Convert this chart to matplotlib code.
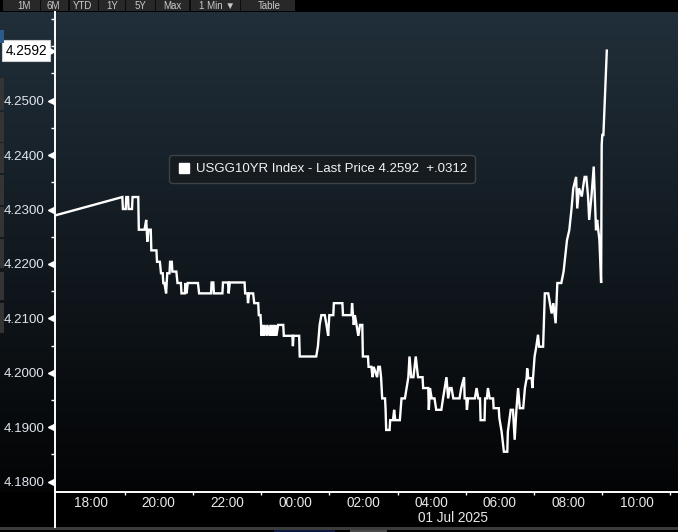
import matplotlib
matplotlib.use("Agg")
import matplotlib.pyplot as plt
import numpy as np
import matplotlib.transforms as mtransforms
from matplotlib.lines import Line2D
from matplotlib.patches import Rectangle
from matplotlib.ticker import FixedLocator, NullFormatter, FixedFormatter

plt.rcParams['font.family'] = ['Liberation Sans Narrow', 'Liberation Sans', 'DejaVu Sans']

# ---------------- data ----------------
times = [
    "16:57", "18:56", "18:57", "19:02", "19:03", "19:06", "19:07", "19:13", "19:14", "19:24",
    "19:25", "19:35", "19:38", "19:40", "19:42", "19:46", "19:47", "19:56", "19:57", "20:02",
    "20:04", "20:07", "20:08", "20:10", "20:13", "20:15", "20:19", "20:20", "20:23", "20:24",
    "20:31", "20:33", "20:39", "20:40", "20:46", "20:47", "20:49", "20:51", "21:09", "21:11",
    "21:32", "21:33", "21:36", "21:37", "21:52", "21:53", "22:02", "22:03", "22:05", "22:31",
    "22:32", "22:36", "22:37", "22:39", "22:46", "22:48", "22:55", "22:56", "22:59", "23:00",
    "23:01", "23:02", "23:05", "23:06", "23:10", "23:11", "23:15", "23:17", "23:19", "23:21",
    "23:23", "23:25", "23:27", "23:30", "23:39", "23:40", "23:55", "23:56", "23:57", "00:07",
    "00:08", "00:37", "00:40", "00:43", "00:46", "00:52", "00:55", "00:58", "01:00", "01:07",
    "01:08", "01:23", "01:24", "01:39", "01:40", "01:43", "01:45", "01:51", "01:54", "01:58",
    "01:59", "02:08", "02:09", "02:14", "02:16", "02:18", "02:24", "02:26", "02:29", "02:31",
    "02:33", "02:38", "02:39", "02:40", "02:46", "02:47", "02:52", "02:54", "02:56", "03:04",
    "03:07", "03:13", "03:16", "03:19", "03:21", "03:24", "03:28", "03:32", "03:36", "03:44",
    "03:45", "03:54", "03:55", "03:57", "04:00", "04:05", "04:08", "04:17", "04:20", "04:26",
    "04:29", "04:32", "04:35", "04:38", "04:49", "04:52", "04:57", "04:58", "05:01", "05:02",
    "05:04", "05:16", "05:19", "05:22", "05:25", "05:26", "05:33", "05:34", "05:37", "05:39",
    "05:42", "05:48", "05:49", "05:58", "05:59", "06:03", "06:07", "06:13", "06:14", "06:19",
    "06:23", "06:26", "06:29", "06:32", "06:35", "06:41", "06:44", "06:47", "06:48", "06:50",
    "06:56", "06:57", "07:01", "07:04", "07:07", "07:09", "07:16", "07:19", "07:25", "07:28",
    "07:31", "07:34", "07:38", "07:41", "07:48", "07:52", "07:58", "08:02", "08:06", "08:09",
    "08:14", "08:16", "08:19", "08:24", "08:26", "08:29", "08:32", "08:35", "08:37", "08:41",
    "08:45", "08:49", "08:51", "08:55", "08:58", "08:59", "09:00", "09:02", "09:08",
]
values = [
    4.2289, 4.2323, 4.2301, 4.2301, 4.2323, 4.2323, 4.2301, 4.2301, 4.2323, 4.2323,
    4.2263, 4.2263, 4.2281, 4.2241, 4.2263, 4.2263, 4.2225, 4.2225, 4.2204, 4.2204,
    4.2183, 4.2183, 4.2165, 4.2165, 4.2146, 4.2183, 4.2183, 4.2204, 4.2204, 4.2186,
    4.2186, 4.2165, 4.2165, 4.2146, 4.2146, 4.2165, 4.2146, 4.2165, 4.2165, 4.2146,
    4.2146, 4.2166, 4.2166, 4.2146, 4.2146, 4.2166, 4.2166, 4.2146, 4.2166, 4.2166,
    4.2146, 4.2146, 4.2128, 4.2146, 4.2146, 4.2128, 4.2128, 4.2106, 4.2106, 4.2088,
    4.2068, 4.2088, 4.2068, 4.2088, 4.2068, 4.2088, 4.2068, 4.2088, 4.2068, 4.2088,
    4.2068, 4.2088, 4.2068, 4.2088, 4.2088, 4.2068, 4.2068, 4.2049, 4.2068, 4.2068,
    4.2030, 4.2030, 4.2049, 4.2088, 4.2106, 4.2106, 4.2088, 4.2068, 4.2106, 4.2106,
    4.2128, 4.2128, 4.2106, 4.2106, 4.2128, 4.2088, 4.2106, 4.2068, 4.2088, 4.2088,
    4.2030, 4.2030, 4.2011, 4.2011, 4.1992, 4.2011, 4.1992, 4.2011, 4.2011, 4.1992,
    4.1953, 4.1953, 4.1932, 4.1895, 4.1895, 4.1913, 4.1913, 4.1932, 4.1913, 4.1913,
    4.1953, 4.1953, 4.1972, 4.1992, 4.2030, 4.1992, 4.1992, 4.2030, 4.1992, 4.1992,
    4.1972, 4.1972, 4.1932, 4.1972, 4.1953, 4.1953, 4.1932, 4.1932, 4.1953, 4.1992,
    4.1953, 4.1972, 4.1972, 4.1953, 4.1953, 4.1972, 4.1992, 4.1953, 4.1953, 4.1932,
    4.1953, 4.1953, 4.1972, 4.1953, 4.1953, 4.1913, 4.1913, 4.1953, 4.1953, 4.1972,
    4.1953, 4.1953, 4.1935, 4.1935, 4.1917, 4.1892, 4.1855, 4.1855, 4.1892, 4.1932,
    4.1932, 4.1877, 4.1932, 4.1972, 4.1935, 4.1935, 4.1972, 4.1990, 4.2008, 4.1990,
    4.1990, 4.1972, 4.2030, 4.2048, 4.2070, 4.2048, 4.2048, 4.2146, 4.2146, 4.2128,
    4.2109, 4.2128, 4.2091, 4.2165, 4.2165, 4.2186, 4.2244, 4.2262, 4.2302, 4.2339,
    4.2360, 4.2302, 4.2339, 4.2324, 4.2339, 4.2360, 4.2360, 4.2324, 4.2281, 4.2324,
    4.2379, 4.2262, 4.2281, 4.2244, 4.2165, 4.2418, 4.2437, 4.2437, 4.2592,
]
y_ticks = [4.18, 4.19, 4.20, 4.21, 4.22, 4.23, 4.24, 4.25]
y_minor = [4.185, 4.195, 4.205, 4.215, 4.225, 4.235, 4.245, 4.255, 4.26, 4.265]
x_label_hours = [18, 20, 22, 24, 26, 28, 30, 32, 34]
x_tick_labels = ["18:00", "20:00", "22:00", "00:00", "02:00", "04:00", "06:00", "08:00", "10:00"]
x_mark_hours = [19, 21, 23, 25, 27, 29, 31, 33, 35]
date_label = "01 Jul 2025"
date_label_hour = 28.62
legend_label = "USGG10YR Index - Last Price 4.2592  +.0312"
last_price = 4.2592
last_price_label = "4.2592"
toolbar_labels = ["1M", "6M", "YTD", "1Y", "5Y", "Max", "1 Min \u25bc", "Table"]

# convert HH:MM strings to continuous hours (rolling over midnight)
hours = []
offset = 0.0
prev = None
for t in times:
    h, m = map(int, t.split(":"))
    v = h + m / 60.0 + offset
    if prev is not None and v < prev:
        offset += 24.0
        v += 24.0
    hours.append(v)
    prev = v

W, H = 678, 532
def fx(px):
    return px / W
def fy(py):
    return 1 - py / H

fig = plt.figure(figsize=(W / 100, H / 100), dpi=100, facecolor="black")

# ---------------- background gradient ----------------
ax_top, ax_bot, ax_left = 12, 492, 55
bg = fig.add_axes([0, fy(ax_bot), 1, (ax_bot - ax_top) / H])
top_c = np.array([0x21, 0x2f, 0x3a]) / 255.0
bot_c = np.array([0x03, 0x04, 0x05]) / 255.0
n = 256
frac = np.linspace(0, 1, n)[:, None]
grad = top_c[None, :] * (1 - frac) + bot_c[None, :] * frac
bg.imshow(grad[:, None, :], aspect="auto", extent=[0, 1, 0, 1], interpolation="bilinear")
bg.set_axis_off()

# ---------------- main axes ----------------
ax = fig.add_axes([fx(ax_left), fy(ax_bot), (W - ax_left) / W, (ax_bot - ax_top) / H])
ax.patch.set_alpha(0)
ax.plot(hours, values, color="white", lw=1.7, solid_joinstyle="miter", label=legend_label, zorder=3)
ax.set_xlim(16.96, 35.22)
ax.set_ylim(4.1781, 4.2663)

for s in ["top", "right"]:
    ax.spines[s].set_visible(False)
for s in ["left", "bottom"]:
    ax.spines[s].set_color("white")
    ax.spines[s].set_linewidth(1.4)

# y axis
ax.yaxis.set_major_locator(FixedLocator(y_ticks))
ax.yaxis.set_major_formatter(FixedFormatter(["%.4f" % v for v in y_ticks]))
ax.yaxis.set_minor_locator(FixedLocator(y_minor))
ax.tick_params(axis="y", which="major", length=0, pad=7.4, labelsize=9.6, labelcolor="#dfe5ec")
ax.tick_params(axis="y", which="minor", length=3.0, width=1.0, color="white", direction="out")
ytrans = mtransforms.blended_transform_factory(ax.transAxes, ax.transData)
ax.plot(np.full(len(y_ticks), -4.5 / 623), y_ticks, ls="none", marker="<", ms=4.5,
        color="white", mec="white", transform=ytrans, clip_on=False)

# x axis
ax.xaxis.set_major_locator(FixedLocator(x_mark_hours))
ax.xaxis.set_major_formatter(NullFormatter())
ax.xaxis.set_minor_locator(FixedLocator(x_label_hours))
ax.xaxis.set_minor_formatter(FixedFormatter(x_tick_labels))
ax.tick_params(axis="x", which="major", length=2.5, width=1.0, color="white", direction="out")
ax.tick_params(axis="x", which="minor", length=0, pad=3.0, labelsize=9.8, labelcolor="#e8e8e8")
xtrans = mtransforms.blended_transform_factory(ax.transData, ax.transAxes)
ax.text(date_label_hour, -26 / 480, date_label, transform=xtrans, ha="center", va="center",
        fontsize=9.8, color="#e8e8e8")

# last price box on the y axis
ax.text(-8 / 623, last_price, last_price_label, transform=ytrans, ha="right", va="center",
        fontsize=9.8, color="black", zorder=6,
        bbox=dict(boxstyle="square,pad=0.25", fc="white", ec="#d0d0d0", lw=0.8))
ax.plot([-3 / 623], [last_price], ls="none", marker=">", ms=5, color="white",
        transform=ytrans, clip_on=False, zorder=6)

# legend
handle = Line2D([], [], ls="none", marker="s", ms=7.8, color="white", mec="white")
leg = ax.legend([handle], [legend_label], loc="upper left",
                bbox_to_anchor=((168.5 - ax_left) / 623, (ax_bot - 155) / 480),
                borderaxespad=0, frameon=True, fancybox=True, facecolor="#161b20",
                edgecolor="#3c4247", framealpha=1, fontsize=9.5, labelcolor="#f2f2f2",
                handlelength=1.2, handletextpad=0.25, borderpad=0.6)
leg.get_frame().set_linewidth(1.0)
leg.get_frame().set_boxstyle("round,pad=0,rounding_size=0.25")

# left spine extension below axis
fig.add_artist(Line2D([fx(ax_left), fx(ax_left)], [fy(527), fy(ax_bot)], color="white", lw=1.4,
                      transform=fig.transFigure))

# ---------------- top toolbar ----------------
fig.add_artist(Rectangle((fx(3), fy(10.7)), fx(295) - fx(3), 10.7 / H, transform=fig.transFigure,
                         fc="#282828", ec="none"))
for sx in [40, 68.3, 98.3, 125, 155, 189.3, 240]:
    fig.add_artist(Rectangle((fx(sx), fy(10.7)), 1.2 / W, 10.7 / H, transform=fig.transFigure,
                             fc="#0c0c0c", ec="none"))
for lab, cx in zip(toolbar_labels, [24, 53, 83, 112, 140, 172, 217, 269]):
    fig.text(fx(cx), fy(5.6), lab, ha="center", va="center", fontsize=7, color="#c9c9c9")

# ---------------- left side strip ----------------
fig.add_artist(Rectangle((0, fy(43)), 3.5 / W, 13 / H, transform=fig.transFigure,
                         fc="#2a5b8c", ec="none"))
for y0, y1 in [(78, 110), (112, 142), (143, 173), (175, 205), (207, 237), (239, 268), (272, 300), (303, 333)]:
    fig.add_artist(Rectangle((0, fy(y1)), 3.5 / W, (y1 - y0) / H, transform=fig.transFigure,
                             fc="#343434", ec="none"))

# ---------------- bottom strip ----------------
fig.add_artist(Rectangle((0, fy(529.5)), 1, 3 / H, transform=fig.transFigure, fc="#3b3b3b", ec="none"))
fig.add_artist(Rectangle((fx(274), 0), 61 / W, 2.5 / H, transform=fig.transFigure, fc="#0b1a3e", ec="none"))
fig.add_artist(Rectangle((fx(350), 0), 37 / W, 2.5 / H, transform=fig.transFigure, fc="#4a4a4a", ec="none"))

fig.savefig("out.png", dpi=100, facecolor="black")
